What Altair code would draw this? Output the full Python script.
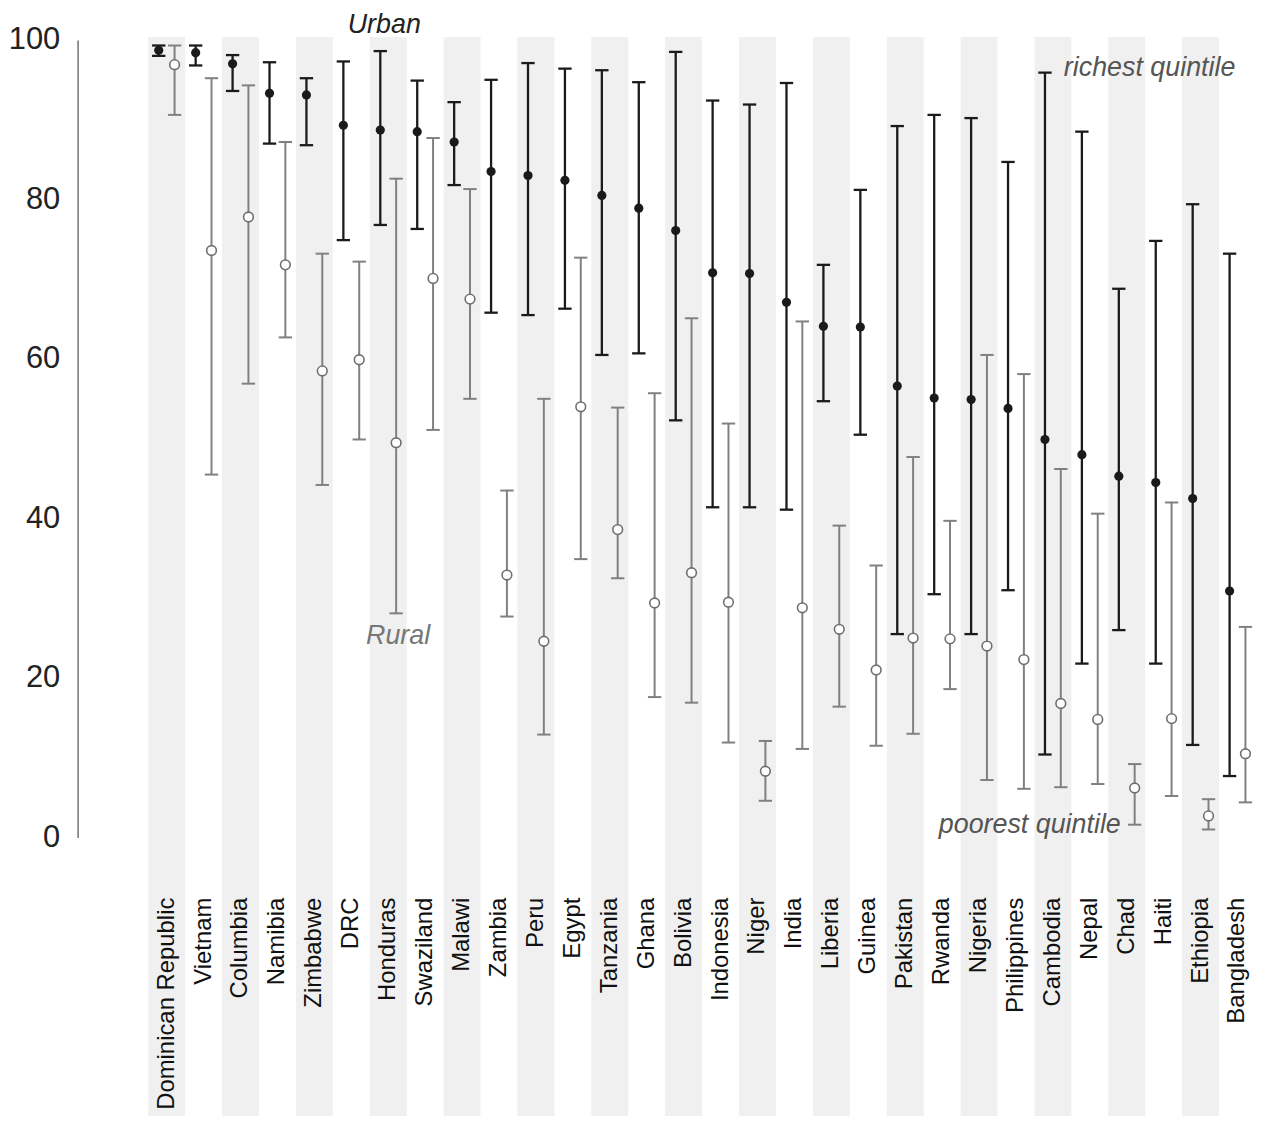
import altair as alt
import pandas as pd

countries = ["Dominican Republic", "Vietnam", "Columbia", "Namibia", "Zimbabwe", "DRC",
             "Honduras", "Swaziland", "Malawi", "Zambia", "Peru", "Egypt", "Tanzania",
             "Ghana", "Bolivia", "Indonesia", "Niger", "India", "Liberia", "Guinea",
             "Pakistan", "Rwanda", "Nigeria", "Philippines", "Cambodia", "Nepal", "Chad",
             "Haiti", "Ethiopia", "Bangladesh"]

urban_mid = [98.7, 98.4, 97.0, 93.3, 93.1, 89.3, 88.7, 88.5, 87.2, 83.5, 83.0, 82.4, 80.5,
             78.9, 76.1, 70.8, 70.7, 67.1, 64.1, 64.0, 56.6, 55.1, 54.9, 53.8, 49.9, 48.0,
             45.3, 44.5, 42.5, 30.9]
urban_lo = [98.0, 96.8, 93.6, 87.0, 86.8, 74.9, 76.8, 76.3, 81.8, 65.8, 65.5, 66.3, 60.5,
            60.7, 52.3, 41.4, 41.4, 41.1, 54.7, 50.5, 25.5, 30.5, 25.5, 31.0, 10.4, 21.8,
            26.0, 21.8, 11.6, 7.7]
urban_hi = [99.3, 99.3, 98.1, 97.2, 95.2, 97.3, 98.6, 94.9, 92.2, 95.0, 97.1, 96.4, 96.2,
            94.7, 98.5, 92.4, 91.9, 94.6, 71.8, 81.2, 89.2, 90.6, 90.2, 84.7, 95.9, 88.5,
            68.8, 74.8, 79.4, 73.2]

rural_mid = [96.9, 73.6, 77.8, 71.8, 58.5, 59.9, 49.5, 70.1, 67.5, 32.9, 24.6, 54.0, 38.6,
             29.4, 33.2, 29.5, 8.3, 28.8, 26.1, 21.0, 25.0, 24.9, 24.0, 22.3, 16.8, 14.8,
             6.2, 14.9, 2.7, 10.5]
rural_lo = [90.6, 45.5, 56.9, 62.7, 44.2, 49.9, 28.1, 51.1, 55.0, 27.7, 12.9, 34.9, 32.5,
            17.6, 16.9, 11.9, 4.6, 11.1, 16.4, 11.5, 13.0, 18.6, 7.2, 6.1, 6.3, 6.7,
            1.6, 5.2, 1.0, 4.4]
rural_hi = [99.3, 95.2, 94.3, 87.2, 73.2, 72.2, 82.6, 87.7, 81.3, 43.5, 55.0, 72.7, 53.9,
            55.7, 65.1, 51.9, 12.1, 64.7, 39.1, 34.1, 47.7, 39.7, 60.5, 58.1, 46.2, 40.6,
            9.2, 42.0, 4.8, 26.4]

y_ticks = [0, 20, 40, 60, 80, 100]

# annotation labels
note_text = ["Urban", "Rural", "richest quintile", "poorest quintile"]
note_country = ["Honduras", "Honduras", "Cambodia", "Chad"]
note_value = [101.9, 25.3, 96.5, 1.6]

urban = pd.DataFrame({"country": countries, "mid": urban_mid, "lo": urban_lo, "hi": urban_hi})
rural = pd.DataFrame({"country": countries, "mid": rural_mid, "lo": rural_lo, "hi": rural_hi})
bands = pd.DataFrame({"country": countries[::2]})
notes = pd.DataFrame({"text": note_text, "country": note_country, "v": note_value})

FONT = "Liberation Sans"
U_POS = 0.285
R_POS = 0.714
U_COL = "#1a1a1a"
R_COL = "#808080"
CAP = "M-1,0L1,0"

xscale = alt.Scale(domain=countries, paddingInner=0, paddingOuter=0)
yscale = alt.Scale(domain=[0, 100], nice=False, zero=False)

x_axis = alt.Axis(title=None, labelAngle=270, labelAlign="right", labelBaseline="middle",
                  ticks=False, domain=False, grid=False, labelPadding=60, labelFontSize=24,
                  labelColor="#111111", labelFont=FONT, labelLimit=400,
                  labelOverlap=False, zindex=1)
y_axis = alt.Axis(title=None, values=y_ticks, ticks=False, grid=False,
                  domainColor="#8a8a8a", domainWidth=1.8, labelFontSize=31,
                  labelColor="#222222", labelFont=FONT, labelPadding=18, offset=71,
                  zindex=1)


def X(pos=None):
    if pos is None:
        return alt.X("country:N", scale=xscale, sort=countries, axis=x_axis)
    return alt.X("country:N", scale=xscale, sort=countries, axis=x_axis, bandPosition=pos)


def Y(field):
    return alt.Y(field, scale=yscale, axis=y_axis)


band_layer = alt.Chart(bands).mark_rect(color="#f0f0f0").encode(
    x=X(),
    y=alt.value(-3),
    y2=alt.value(1090),
)


def series(df, pos, col, lw, point):
    base = alt.Chart(df)
    rule = base.mark_rule(color=col, strokeWidth=lw).encode(
        x=X(pos), y=Y("lo:Q"), y2="hi:Q")
    cap_lo = base.mark_point(shape=CAP, size=180, stroke=col, strokeWidth=lw,
                             opacity=1, filled=False).encode(x=X(pos), y=Y("lo:Q"))
    cap_hi = base.mark_point(shape=CAP, size=180, stroke=col, strokeWidth=lw,
                             opacity=1, filled=False).encode(x=X(pos), y=Y("hi:Q"))
    pt = base.mark_point(**point).encode(x=X(pos), y=Y("mid:Q"))
    return [rule, cap_lo, cap_hi, pt]


urban_layers = series(urban, U_POS, U_COL, 2.3,
                      dict(shape="circle", filled=True, color=U_COL, size=85, opacity=1))
rural_layers = series(rural, R_POS, R_COL, 2.0,
                      dict(shape="circle", filled=True, fill="white", stroke="#6e6e6e",
                           strokeWidth=1.6, size=95, opacity=1))


def note(i, pos, align, dx, color):
    d = notes.iloc[[i]]
    return alt.Chart(d).mark_text(font=FONT, fontStyle="italic", fontSize=27,
                                  align=align, baseline="middle", dx=dx, color=color).encode(
        x=X(pos), y=Y("v:Q"), text="text:N")


note_layers = [
    note(0, U_POS, "center", 4, "#222222"),
    note(1, R_POS, "center", 2, "#777777"),
    note(2, U_POS, "left", 19, "#555555"),
    note(3, U_POS, "right", 2, "#555555"),
]

chart = alt.layer(band_layer, *urban_layers, *rural_layers, *note_layers).properties(
    width=1114, height=802,
    background="white",
    autosize=alt.AutoSizeParams(type="none"),
    padding={"left": 141, "top": 29, "right": 0, "bottom": 277},
).configure_view(stroke="transparent", strokeWidth=0).configure_axis(grid=False)

chart.save("out.html", embed_options={"renderer": "svg", "actions": False})
